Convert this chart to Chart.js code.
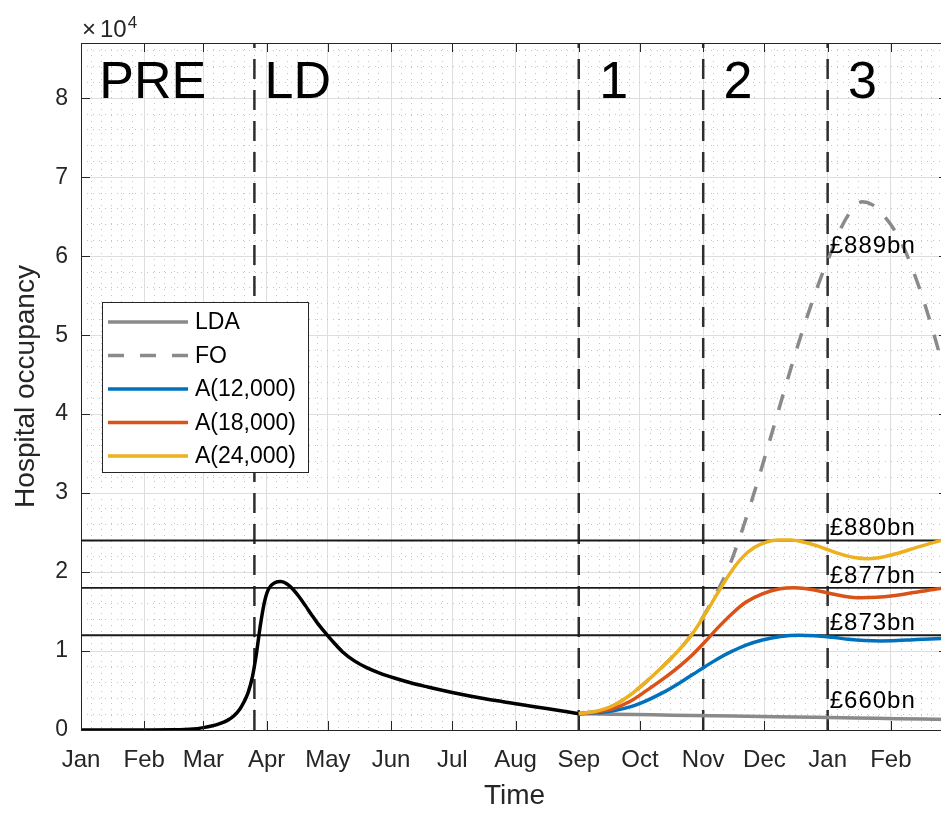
<!DOCTYPE html>
<html>
<head>
<meta charset="utf-8">
<title>Hospital occupancy</title>
<script src="https://cdn.jsdelivr.net/npm/chart.js@4/dist/chart.umd.min.js"></script>
<style>
  html, body { margin: 0; padding: 0; background: #fff; }
  #wrap { width: 941px; height: 813px; overflow: hidden; position: relative; }
  canvas { display: block; }
</style>
</head>
<body>
<div id="wrap"><canvas id="chart" width="952" height="813"></canvas></div>
<script>
const FONT = '"Liberation Sans", Arial, Helvetica, sans-serif';
const INK = '#262626';

// Time is counted in days from 1 January 2020.
const xMax = 425;
const yMax = 87000;
const monthStartDays = [0, 31, 60, 91, 121, 152, 182, 213, 244, 274, 305, 335, 366, 397];
const monthLabels = ['Jan', 'Feb', 'Mar', 'Apr', 'May', 'Jun', 'Jul', 'Aug', 'Sep', 'Oct', 'Nov', 'Dec', 'Jan', 'Feb'];
const yTickValues = [0, 10000, 20000, 30000, 40000, 50000, 60000, 70000, 80000];
const yTickLabels = ['0', '1', '2', '3', '4', '5', '6', '7', '8'];

// Phase boundaries and phase names
const phaseStartDays = [85, 244, 305, 366];
const phaseLabels = ['PRE', 'LD', '1', '2', '3'];
const phaseLabelDays = [9, 90, 254, 315, 376];
const phaseLabelLevel = 80000;

// Occupancy caps of the adaptive policies
const capLevels = [12000, 18000, 24000];

// Cost of each strategy
const costLabels = ['£889bn', '£880bn', '£877bn', '£873bn', '£660bn'];
const costLabelLevels = [60400, 24700, 18650, 12660, 2750];
const costLabelDay = 367;

// Occupancy up to 1 September
const baseDays = [0, 30, 45, 55, 60, 64, 68, 72, 75, 78, 80, 82, 84, 86, 88, 90, 92, 95, 98, 101, 104, 107, 110, 113, 116, 120, 124, 128, 134, 140, 147, 154, 162, 170, 182, 198, 214, 229, 244];
const baseValues = [0, 0, 20, 120, 300, 500, 800, 1250, 1800, 2700, 3600, 4800, 6700, 9700, 13400, 16300, 17900, 18650, 18800, 18500, 17800, 16850, 15750, 14600, 13500, 12250, 11050, 9950, 8750, 7900, 7150, 6550, 5950, 5450, 4750, 3950, 3300, 2680, 2070];

// LDA: lockdown continued
const ldaDays = [244, 260, 280, 300, 320, 340, 360, 380, 400, 425];
const ldaValues = [2070, 2000, 1920, 1840, 1760, 1680, 1600, 1520, 1440, 1340];

// FO: full opening
const foDays = [244, 252, 261, 269, 277, 285, 293, 300, 306, 312, 318, 325, 331, 338, 345, 352, 358, 363, 368, 373, 378, 383, 388, 394, 399, 404, 409, 414, 419, 425];
const foValues = [2070, 2350, 3100, 4400, 6100, 8000, 10100, 12300, 14800, 17600, 20900, 26000, 30900, 37000, 43200, 49200, 53900, 57500, 60700, 63800, 65900, 66900, 66500, 65000, 63200, 60700, 57400, 53600, 49300, 43600];

// Adaptive policy A(12,000)
const a12Days = [244, 252, 261, 270, 277, 285, 293, 300, 306, 312, 319, 326, 334, 343, 352, 360, 368, 376, 384, 392, 400, 408, 416, 425];
const a12Values = [2070, 2180, 2450, 3000, 3700, 4700, 5900, 7050, 8050, 9000, 9950, 10750, 11400, 11850, 12000, 11950, 11750, 11500, 11330, 11270, 11320, 11430, 11530, 11600];

// Adaptive policy A(18,000)
const a18Days = [244, 252, 261, 269, 277, 285, 293, 300, 306, 312, 319, 326, 334, 342, 350, 358, 366, 374, 382, 390, 398, 408, 418, 425];
const a18Values = [2070, 2250, 2700, 3600, 4950, 6400, 8000, 9600, 11200, 12900, 14700, 16200, 17250, 17850, 18000, 17800, 17350, 16950, 16750, 16800, 17000, 17400, 17800, 18000];

// Adaptive policy A(24,000)
const a24Days = [244, 252, 261, 269, 277, 285, 293, 300, 306, 312, 318, 324, 330, 336, 342, 348, 354, 360, 366, 372, 379, 386, 393, 400, 410, 421, 425];
const a24Values = [2070, 2350, 3100, 4400, 6100, 8000, 10100, 12300, 14700, 17300, 19800, 21800, 23100, 23800, 24050, 24050, 23800, 23400, 22850, 22300, 21850, 21700, 21900, 22350, 23150, 23950, 24200];

const legendLabels = ['LDA', 'FO', 'A(12,000)', 'A(18,000)', 'A(24,000)'];

const toPoints = (days, values) => days.map((d, i) => ({ x: d, y: values[i] }));

function curve(label, days, values, color, width, order, dash) {
  return {
    label, data: toPoints(days, values),
    borderColor: color, backgroundColor: color, borderWidth: width,
    borderDash: dash || [], pointRadius: 0, fill: false,
    cubicInterpolationMode: 'monotone', borderCapStyle: 'butt', borderJoinStyle: 'round',
    order
  };
}

const datasets = [
  curve('A(24,000)', a24Days, a24Values, '#EDB120', 3.5, 1),
  curve('A(18,000)', a18Days, a18Values, '#D95319', 3.5, 2),
  curve('A(12,000)', a12Days, a12Values, '#0072BD', 3.5, 3),
  curve('Baseline', baseDays, baseValues, '#000000', 3.5, 4),
  curve('LDA', ldaDays, ldaValues, '#8a8a8a', 3.5, 5),
  curve('FO', foDays, foValues, '#8a8a8a', 3.5, 6, [16, 16])
];
capLevels.forEach(level => {
  datasets.push({
    label: 'cap ' + level, data: [{ x: 0, y: level }, { x: xMax, y: level }],
    borderColor: '#1a1a1a', borderWidth: 1.8, pointRadius: 0, fill: false, order: 7
  });
});
phaseStartDays.forEach(day => {
  datasets.push({
    label: 'phase ' + day, data: [{ x: day, y: 0 }, { x: day, y: yMax }],
    borderColor: '#2e2e2e', borderWidth: 2.5, borderDash: [20, 11], pointRadius: 0, fill: false, order: 8
  });
});

// Minor grid positions: every 5 days inside each month, every 2,000 beds
const minorDays = [];
monthStartDays.forEach((m, i) => {
  const next = i + 1 < monthStartDays.length ? monthStartDays[i + 1] : xMax;
  for (let d = m + 5; d < next - 2; d += 5) minorDays.push(d);
});
const minorLevels = [];
for (let v = 2000; v < yMax; v += 2000) if (v % 10000 !== 0) minorLevels.push(v);

const decorations = {
  id: 'decorations',
  afterDraw(chart) {
    const { ctx, chartArea: ca, scales } = chart;
    const xs = scales.x, ys = scales.y;
    ctx.save();

    // box and inward tick marks
    ctx.strokeStyle = INK;
    ctx.lineWidth = 1;
    ctx.beginPath();
    ctx.moveTo(ca.left, ca.top + 0.5); ctx.lineTo(ca.right, ca.top + 0.5);
    ctx.moveTo(ca.right - 0.5, ca.top); ctx.lineTo(ca.right - 0.5, ca.bottom);
    const tl = 9;
    monthStartDays.forEach(d => {
      const x = Math.round(xs.getPixelForValue(d)) + 0.5;
      ctx.moveTo(x, ca.bottom); ctx.lineTo(x, ca.bottom - tl);
      ctx.moveTo(x, ca.top); ctx.lineTo(x, ca.top + tl);
    });
    yTickValues.forEach(v => {
      const y = Math.round(ys.getPixelForValue(v)) + 0.5;
      ctx.moveTo(ca.left, y); ctx.lineTo(ca.left + tl, y);
      ctx.moveTo(ca.right, y); ctx.lineTo(ca.right - tl, y);
    });
    ctx.stroke();

    // exponent of the y axis
    ctx.fillStyle = INK;
    ctx.textBaseline = 'alphabetic';
    ctx.textAlign = 'left';
    ctx.font = '24px ' + FONT;
    const ex = ca.left + 1, ey = ca.top - 6;
    ctx.fillText('×', ex, ey);
    const wx = ctx.measureText('×').width + 4;
    ctx.fillText('10', ex + wx, ey);
    const w10 = ctx.measureText('10').width;
    ctx.font = '17px ' + FONT;
    ctx.fillText('4', ex + wx + w10 + 1, ey - 9);

    // phase names
    ctx.fillStyle = '#000';
    ctx.font = '52px ' + FONT;
    phaseLabels.forEach((t, i) => {
      ctx.fillText(t, xs.getPixelForValue(phaseLabelDays[i]), ys.getPixelForValue(phaseLabelLevel));
    });

    // strategy costs
    ctx.font = '24px ' + FONT;
    if ('letterSpacing' in ctx) ctx.letterSpacing = '1px';
    costLabels.forEach((t, i) => {
      ctx.fillText(t, xs.getPixelForValue(costLabelDay), ys.getPixelForValue(costLabelLevels[i]));
    });
    if ('letterSpacing' in ctx) ctx.letterSpacing = '0px';

    // legend
    const bx = ca.left + 21, by = ca.top + 259, bw = 206, bh = 170;
    ctx.fillStyle = '#fff';
    ctx.fillRect(bx, by, bw, bh);
    ctx.strokeStyle = INK;
    ctx.lineWidth = 1;
    ctx.strokeRect(bx + 0.5, by + 0.5, bw, bh);
    ctx.font = '23px ' + FONT;
    ctx.textBaseline = 'middle';
    legendLabels.forEach((label, i) => {
      const ds = chart.data.datasets.find(d => d.label === label);
      const y = by + 20 + i * 33.5;
      ctx.save();
      ctx.strokeStyle = ds.borderColor;
      ctx.lineWidth = ds.borderWidth;
      ctx.setLineDash(ds.borderDash || []);
      ctx.beginPath();
      ctx.moveTo(bx + 6, y); ctx.lineTo(bx + 86, y);
      ctx.stroke();
      ctx.restore();
      ctx.fillStyle = '#000';
      ctx.fillText(label, bx + 93, y + 1);
    });
    ctx.restore();
  }
};

new Chart(document.getElementById('chart'), {
  type: 'line',
  data: { datasets },
  plugins: [decorations],
  options: {
    responsive: false,
    animation: false,
    devicePixelRatio: 1,
    layout: { padding: { top: 43, right: 4, left: 0, bottom: 0 } },
    plugins: { legend: { display: false }, tooltip: { enabled: false } },
    scales: {
      x: {
        type: 'linear', position: 'bottom', min: 0, max: xMax,
        afterBuildTicks: s => { s.ticks = monthStartDays.map(v => ({ value: v })); },
        afterFit: s => { s.height = 83; },
        ticks: {
          autoSkip: false, maxRotation: 0, minRotation: 0, padding: 16, color: INK,
          font: { family: FONT, size: 24 },
          callback: (v, i) => monthLabels[i]
        },
        grid: { color: '#dedede', lineWidth: 1, drawTicks: false },
        border: { display: true, color: INK, width: 1 },
        title: { display: true, text: 'Time', color: INK, font: { family: FONT, size: 28 }, padding: { top: 0, bottom: 0 } }
      },
      xMinor: {
        type: 'linear', position: 'bottom', min: 0, max: xMax,
        afterBuildTicks: s => { s.ticks = minorDays.map(v => ({ value: v })); },
        afterFit: s => { s.height = 0; },
        ticks: { display: false },
        grid: { color: '#c4c4c4', lineWidth: 1, drawTicks: false },
        border: { display: false, dash: [1, 5] }
      },
      y: {
        type: 'linear', position: 'left', min: 0, max: yMax,
        afterBuildTicks: s => { s.ticks = yTickValues.map(v => ({ value: v })); },
        afterFit: s => { s.width = 81; },
        ticks: {
          padding: 13, color: INK, font: { family: FONT, size: 23 },
          callback: (v, i) => yTickLabels[i]
        },
        grid: { color: '#dedede', lineWidth: 1, drawTicks: false },
        border: { display: true, color: INK, width: 1 },
        title: { display: true, text: 'Hospital occupancy', color: INK, font: { family: FONT, size: 28 }, padding: { top: 9, bottom: 0 } }
      },
      yMinor: {
        type: 'linear', position: 'left', min: 0, max: yMax,
        afterBuildTicks: s => { s.ticks = minorLevels.map(v => ({ value: v })); },
        afterFit: s => { s.width = 0; },
        ticks: { display: false },
        grid: { color: '#c4c4c4', lineWidth: 1, drawTicks: false },
        border: { display: false, dash: [1, 5] }
      }
    }
  }
});
</script>
</body>
</html>
